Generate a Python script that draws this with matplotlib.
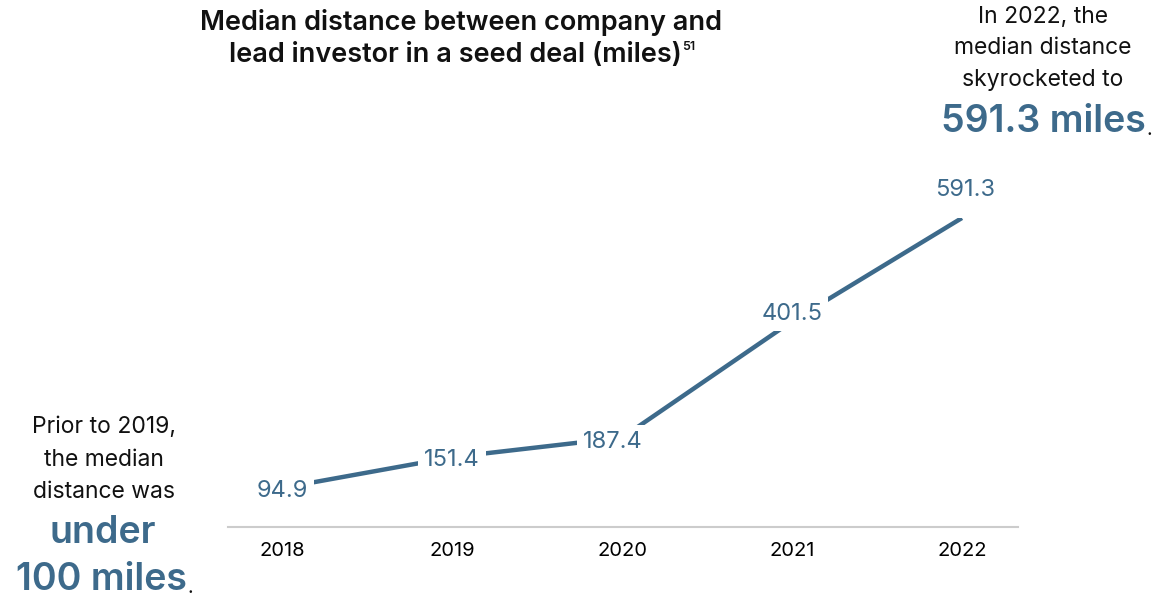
import matplotlib.pyplot as plt

plt.rcParams['font.family'] = ['Inter', 'DejaVu Sans']

years = [2018, 2019, 2020, 2021, 2022]
distances = [94.9, 151.4, 187.4, 401.5, 591.3]
value_labels = ['94.9', '151.4', '187.4', '401.5', '591.3']
# label offsets in points (dx, dy) so the line passes under the boxes
label_offsets = [(0, -2), (0, -2), (-7, -3), (0, 5), (2, 20)]

azul = '#3d6a8b'
negro = '#111111'
W, H = 1153, 598


def fx(px):
    return px / W


def fy(py):
    return 1 - py / H


fig = plt.figure(figsize=(11.53, 5.98), dpi=100)
ax = fig.add_axes([fx(228), fy(527), 790 / W, 309 / H])

ax.plot(years, distances, color=azul, lw=3.2, solid_capstyle='butt', zorder=2)

for x, y, txt, (dx, dy) in zip(years, distances, value_labels, label_offsets):
    ax.annotate(txt, (x, y), xytext=(dx, dy), textcoords='offset points',
                ha='center', va='center', fontsize=17, color=azul,
                bbox=dict(boxstyle='square,pad=0.25', fc='white', ec='none'),
                zorder=3)

ax.set_xlim(2017.68, 2022.33)
ax.set_ylim(23, 591.3)
ax.set_xticks(years)
ax.set_xticklabels([str(y) for y in years], fontsize=14.5)
ax.set_yticks([])
ax.tick_params(axis='x', length=0, pad=11)
for side in ['top', 'right', 'left']:
    ax.spines[side].set_visible(False)
ax.spines['bottom'].set_color('#cccccc')
ax.spines['bottom'].set_linewidth(1.5)
ax.patch.set_alpha(0)

renderer = fig.canvas.get_renderer()


def texto_con_sufijo(x, y, s, sufijo, dy_suf, size_suf, color_suf, **kw):
    t = fig.text(fx(x), fy(y), s, **kw)
    bb = t.get_window_extent(renderer)
    fig.text(bb.x1 / fig.bbox.width + 0.001, fy(y + dy_suf), sufijo,
             ha='left', va='center', fontsize=size_suf, color=color_suf,
             fontweight=kw.get('fontweight', 'normal') if sufijo != '.' else 'normal')
    return t


# title
fig.text(fx(461), fy(22), 'Median distance between company and',
         ha='center', va='center', fontsize=19.5, fontweight='semibold', color=negro)
texto_con_sufijo(455, 55, 'lead investor in a seed deal (miles)', '51', -8, 9, negro,
                 ha='center', va='center', fontsize=19.5, fontweight='semibold', color=negro)

# left note
for py, linea in zip([427, 460, 492], ['Prior to 2019,', 'the median', 'distance was']):
    fig.text(fx(104), fy(py), linea, ha='center', va='center', fontsize=16.5, color=negro)
fig.text(fx(103), fy(533), 'under', ha='center', va='center',
         fontsize=27, fontweight='semibold', color=azul)
texto_con_sufijo(101, 580, '100 miles', '.', 8, 14, negro,
                 ha='center', va='center', fontsize=27, fontweight='semibold', color=azul)

# right note
for py, linea in zip([17, 48, 80], ['In 2022, the', 'median distance', 'skyrocketed to']):
    fig.text(fx(1043), fy(py), linea, ha='center', va='center', fontsize=16.5, color=negro)
texto_con_sufijo(1043, 122, '591.3 miles', '.', 8, 14, negro,
                 ha='center', va='center', fontsize=27, fontweight='semibold', color=azul)

fig.savefig('out.png', dpi=100, facecolor='white')
